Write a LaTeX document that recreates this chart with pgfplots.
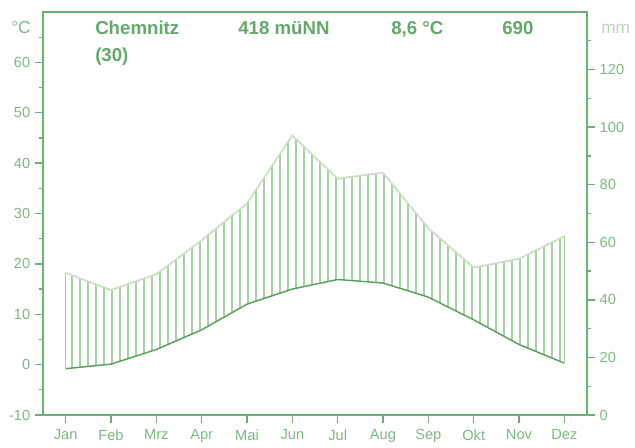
\documentclass[border=0pt]{standalone}
\usepackage{fontspec}
\setmainfont{Liberation Sans}
\usepackage{pgfplots}
\usepackage{pgfplotstable}
\pgfplotsset{compat=1.18}
\usepgfplotslibrary{fillbetween}
\usetikzlibrary{patterns.meta}
\definecolor{boxgreen}{RGB}{110,175,115}
\definecolor{ticklab}{RGB}{125,185,128}
\definecolor{titlegreen}{RGB}{100,168,106}
\definecolor{tempgreen}{RGB}{88,160,95}
\definecolor{precgreen}{RGB}{198,224,193}
\definecolor{hatchgreen}{RGB}{170,207,166}
\definecolor{mmgray}{RGB}{188,214,184}
\pgfplotstableread{
m temp prec
1 -0.8 49.4
2 0.1 43.4
3 3.0 48.9
4 6.9 60.7
5 12.0 73.5
6 15.0 97.1
7 16.9 82.1
8 16.2 84.2
9 13.4 64.9
10 8.9 51.2
11 4.0 54.3
12 0.3 62.1
}\climate
\tikzset{ttl/.style={font=\bfseries\fontsize{14}{16}\selectfont, text=titlegreen, anchor=base west, inner sep=0pt}}
\begin{document}
\begin{tikzpicture}
\begin{axis}[
  at={(0,0)}, anchor=south west,
  scale only axis, width=408pt, height=302.25pt,
  xmin=0.5, xmax=12.5, ymin=-10, ymax=70,
  axis line style={boxgreen, line width=1.4pt},
  xtick={1,...,12},
  xticklabels={Jan,Feb,Mrz,Apr,Mai,Jun,Jul,Aug,Sep,Okt,Nov,Dez},
  ytick={-10,0,...,60},
  minor ytick={-5,5,...,65},
  tick style={boxgreen, line width=1pt},
  major tick length=6pt, minor tick length=3pt,
  tick align=outside,
  xtick pos=bottom, ytick pos=left,
  xticklabel style={font=\fontsize{11}{12}\selectfont, text=ticklab, yshift=-1.5pt},
  yticklabel style={font=\fontsize{11}{12}\selectfont, text=ticklab},
  /pgf/number format/assume math mode=true,
  clip=false,
]
\addplot[name path=temp, draw=tempgreen, line width=1.1pt] table[x=m, y=temp] {\climate};
\addplot[name path=prec, draw=precgreen, line width=1.3pt] table[x=m, y expr=\thisrow{prec}/1.75-10] {\climate};
\addplot[draw=none, pattern={Lines[angle=90, distance=6pt, line width=1.1pt]}, pattern color=hatchgreen] fill between[of=prec and temp];
\addplot[draw=hatchgreen, line width=1.1pt] coordinates {(1,-0.8) (1,18.23)};
\addplot[draw=hatchgreen, line width=1.1pt] coordinates {(12,0.3) (12,25.49)};
\node[ttl] at (rel axis cs:0.0956,0.943) {Chemnitz};
\node[ttl] at (rel axis cs:0.0956,0.876) {(30)};
\node[ttl] at (rel axis cs:0.3585,0.943) {418 müNN};
\node[ttl] at (rel axis cs:0.6397,0.943) {8,6 °C};
\node[ttl] at (rel axis cs:0.8438,0.943) {690};
\node[font=\fontsize{13}{14}\selectfont, text=ticklab, anchor=base east, inner sep=0pt] at (rel axis cs:0,1) [xshift=-9pt, yshift=-15.75pt] {°C};
\end{axis}
\begin{axis}[
  at={(0,0)}, anchor=south west,
  scale only axis, width=408pt, height=302.25pt,
  xmin=0.5, xmax=12.5, ymin=0, ymax=140,
  axis x line=none,
  axis y line*=right,
  axis line style={boxgreen, line width=1.4pt},
  ytick={0,20,...,120},
  minor ytick={10,30,...,130},
  tick style={boxgreen, line width=1pt},
  major tick length=6pt, minor tick length=3pt,
  tick align=outside,
  yticklabel style={font=\fontsize{11}{12}\selectfont, text=ticklab},
  /pgf/number format/assume math mode=true,
  clip=false,
]
\node[font=\fontsize{13}{14}\selectfont, text=mmgray, anchor=base west, inner sep=0pt] at (rel axis cs:1,1) [xshift=10.5pt, yshift=-15.75pt] {mm};
\end{axis}
\path (-32.25pt,-21pt) rectangle (444pt,311.25pt);
\end{tikzpicture}
\end{document}
